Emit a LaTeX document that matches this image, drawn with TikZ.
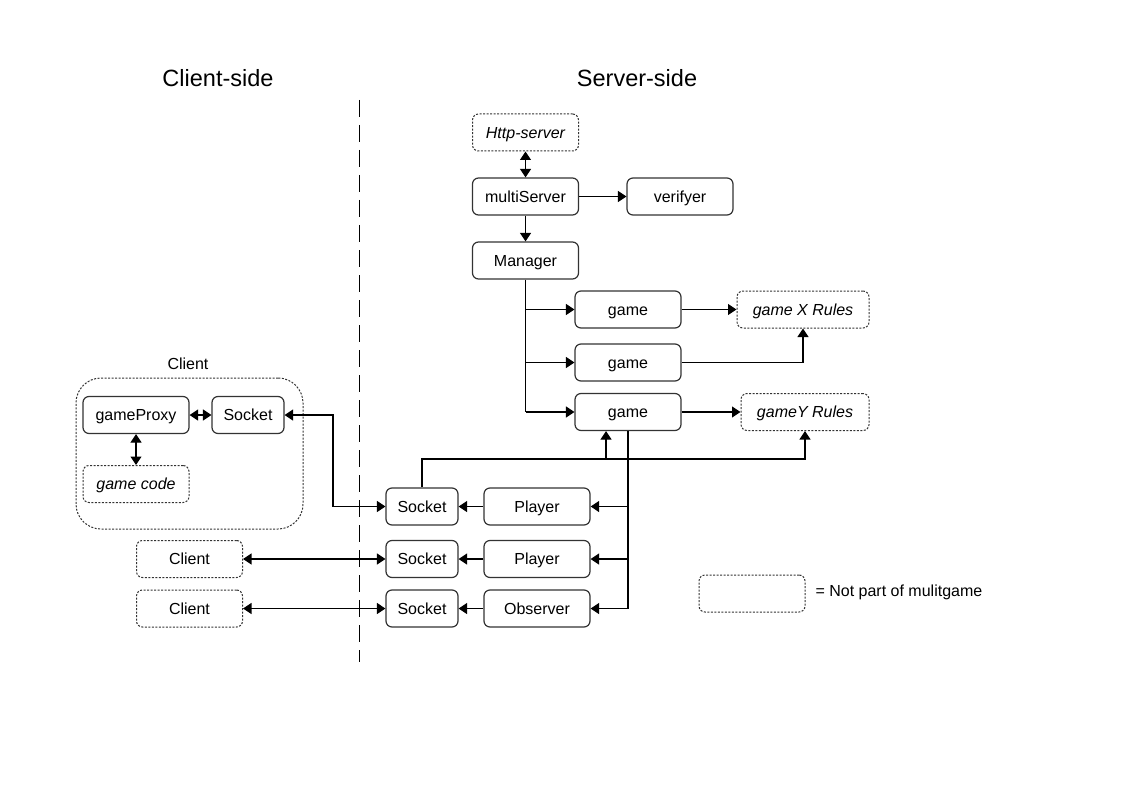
\documentclass[tikz,border=0pt]{standalone}
\usepackage{fontspec}
\setmainfont{Liberation Sans}
\usetikzlibrary{arrows.meta}
\begin{document}
\begin{tikzpicture}[x=1pt,y=-1pt,
  lbl/.style={font=\fontsize{16}{19}\selectfont},
  box/.style={lbl, draw=black!80, line width=1.2pt, rounded corners=6pt,
    minimum width=106pt, minimum height=37pt, inner sep=0pt,
    text height=13pt, text depth=1.5pt},
  sock/.style={box, minimum width=72pt},
  ext/.style={box, dash pattern=on 2pt off 1.5pt, line width=1pt},
  title/.style={font=\fontsize{23.5}{28}\selectfont},
  wire/.style={line width=1.2pt},
  conn/.style={wire, -{Triangle[length=8.5pt,width=11pt]}},
  both/.style={wire, {Triangle[length=8.5pt,width=11pt]}-{Triangle[length=8.5pt,width=11pt]}},
]
\useasboundingbox (0,0) rectangle (1123,794);

% headings and divider
\node[title] (tclient) at (218,78) {Client-side};
\node[title] (tserver) at (637,78) {Server-side};
\draw[line width=1pt, dash pattern=on 17pt off 8pt] (359,100) -- (359,662);

% server core
\node[ext, font=\fontsize{16}{19}\selectfont\itshape] (http) at (525.5,132.5) {Http-server};
\node[box] (ms) at (525.5,196.5) {multiServer};
\node[box] (ver) at (680,196.5) {verifyer};
\node[box] (mgr) at (525.5,260.5) {Manager};

% games and rules
\node[box] (g1) at (628,309.5) {game};
\node[box] (g2) at (628,362.5) {game};
\node[box] (g3) at (628,412) {game};
\node[ext, minimum width=132pt, font=\fontsize{16}{19}\selectfont\itshape] (gx) at (803,309.5) {game X Rules};
\node[ext, minimum width=128pt, font=\fontsize{16}{19}\selectfont\itshape] (gy) at (805,412) {gameY Rules};

% players and sockets
\node[sock] (s1) at (422,506.5) {Socket};
\node[box] (p1) at (537,506.5) {Player};
\node[sock] (s2) at (422,559) {Socket};
\node[box] (p2) at (537,559) {Player};
\node[sock] (s3) at (422,608.5) {Socket};
\node[box] (obs) at (537,608.5) {Observer};

% client side
\node[draw=black!80, line width=1pt, dash pattern=on 2pt off 1.5pt, rounded corners=25pt,
  minimum width=227pt, minimum height=151pt, inner sep=0pt] (client) at (189.5,453.5) {};
\node[lbl] (clientlbl) at (188,364) {Client};
\node[box] (gp) at (136,415) {gameProxy};
\node[sock] (cs) at (248,415) {Socket};
\node[ext, font=\fontsize{16}{19}\selectfont\itshape] (gc) at (136,484) {game code};
\node[ext] (c2) at (189.5,559) {Client};
\node[ext] (c3) at (189.5,608.5) {Client};

% legend
\node[ext] (leg) at (752,593.5) {};
\node[lbl, anchor=west] (legtxt) at (812,592) {= Not part of mulitgame};

% connectors: server core
\draw[both] (http) -- (ms);
\draw[conn] (ms) -- (ver);
\draw[conn] (ms) -- (mgr);
\draw[wire] (mgr.south) -- (mgr.south |- g3.west);
\draw[conn] (mgr.south |- g1.west) -- (g1.west);
\draw[conn] (mgr.south |- g2.west) -- (g2.west);
\draw[conn] (mgr.south |- g3.west) -- (g3.west);
\draw[conn] (g1) -- (gx);
\draw[conn] (g2.east) -| (gx.south);
\draw[conn] (g3) -- (gy);

% connectors: socket feedback to game and rules
\coordinate (bus) at (0,459);
\coordinate (tap) at (606,459);
\draw[conn] (s1.north) -- (s1.north |- bus) -| (gy.south);
\draw[conn] (tap) -- (tap |- g3.south);

% connectors: game to players
\draw[wire] (g3.south) -- (g3.south |- obs.east);
\draw[conn] (g3.south |- p1.east) -- (p1.east);
\draw[conn] (g3.south |- p2.east) -- (p2.east);
\draw[conn] (g3.south |- obs.east) -- (obs.east);
\draw[conn] (p1) -- (s1);
\draw[conn] (p2) -- (s2);
\draw[conn] (obs) -- (s3);

% connectors: client side
\coordinate (cx) at (333,0);
\draw[both] (cs.east) -- (cs.east -| cx) |- (s1.west);
\draw[both] (c2) -- (s2);
\draw[both] (c3) -- (s3);
\draw[both] (gp) -- (cs);
\draw[both] (gp) -- (gc);
\end{tikzpicture}
\end{document}
